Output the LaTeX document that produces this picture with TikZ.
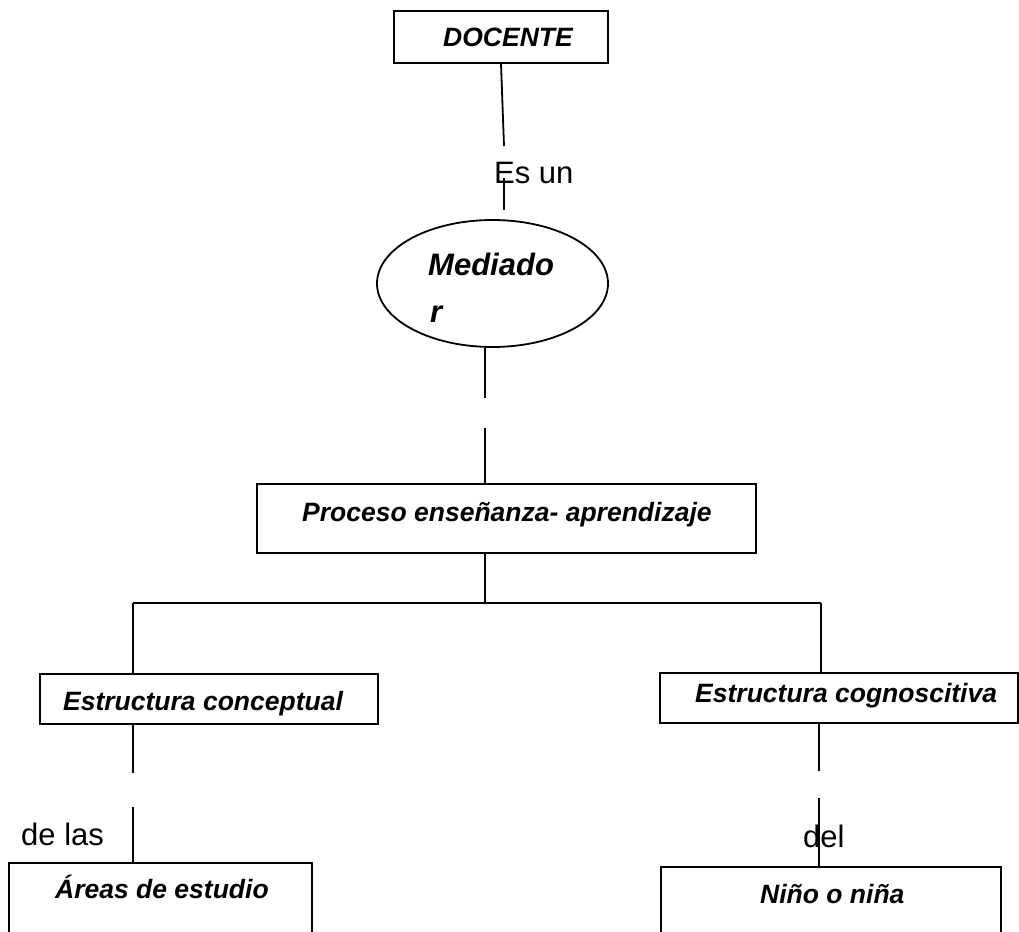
\documentclass[tikz,border=0pt]{standalone}
\usepackage{fontspec}
\setmainfont{Liberation Sans}
\usetikzlibrary{shapes.geometric}
\tikzset{
  boxnode/.style={draw, line width=1.8pt, rectangle, inner sep=0pt},
  ellnode/.style={draw, line width=1.8pt, ellipse, inner sep=0pt},
  conn/.style={line width=1.8pt},
  plainlbl/.style={anchor=base west, inner sep=0pt, font=\fontsize{31}{37}\selectfont},
  bilbl/.style={anchor=base west, inner sep=0pt, font=\fontsize{26.5}{31}\selectfont\bfseries\itshape},
  medlbl/.style={bilbl, font=\fontsize{31}{36}\selectfont\bfseries\itshape},
}
\begin{document}
\begin{tikzpicture}[x=1pt, y=-1pt]
\useasboundingbox (0,0) rectangle (1019,931);
\clip (0,0) rectangle (1019,931);
% boxes
\node[boxnode, minimum width=214pt, minimum height=52pt] (doc) at (501,37) {};
\node[ellnode, minimum width=231pt, minimum height=127pt] (med) at (492.5,283.5) {};
\node[boxnode, minimum width=499pt, minimum height=69pt] (proc) at (506.5,518.5) {};
\node[boxnode, minimum width=338pt, minimum height=50pt] (ec) at (209,699) {};
\node[boxnode, minimum width=358pt, minimum height=50pt] (ecog) at (839,698) {};
\node[boxnode, minimum width=303pt, minimum height=100pt] (areas) at (160.5,913) {};
\node[boxnode, minimum width=340pt, minimum height=100pt] (nino) at (831,917) {};
% texts
\node[bilbl] (tdoc) at (443,47) {DOCENTE};
\node[plainlbl] (esun) at (494,183) {Es un};
\node[medlbl] (tmed1) at (428,275) {Mediado};
\node[medlbl] (tmed2) at (430,322) {r};
\node[bilbl] (tproc) at (302,521) {Proceso enseñanza- aprendizaje};
\node[bilbl] (tec) at (63,710) {Estructura conceptual};
\node[bilbl] (tecog) at (695,702) {Estructura cognoscitiva};
\node[plainlbl] (delas) at (21,845) {de las};
\node[plainlbl] (del) at (803,847) {del};
\node[bilbl] (tareas) at (55,898) {Áreas de estudio};
\node[bilbl] (tnino) at (760,903) {Niño o niña};
% connector coordinates
\coordinate (c1) at (504,146);
\coordinate (c2a) at (504,178);
\coordinate (c2b) at (504,210);
\coordinate (c3) at (485,398);
\coordinate (c4) at (485,428);
\coordinate (hm) at (485,603);
\coordinate (hl) at (133,603);
\coordinate (hr) at (821,603);
\coordinate (l1) at (133,773);
\coordinate (l2) at (133,807);
\coordinate (r1) at (819,771);
\coordinate (r2) at (819,798);
% connectors
\draw[conn] (doc.south) -- (c1);
\draw[conn] (c2a) -- (c2b);
\draw[conn] (med.south -| c3) -- (c3);
\draw[conn] (c4) -- (proc.north -| c4);
\draw[conn] (proc.south -| hm) -- (hm);
\draw[conn] (hl) -- (hr);
\draw[conn] (hl) -- (ec.north -| hl);
\draw[conn] (hr) -- (ecog.north -| hr);
\draw[conn] (ec.south -| l1) -- (l1);
\draw[conn] (l2) -- (areas.north -| l2);
\draw[conn] (ecog.south -| r1) -- (r1);
\draw[conn] (r2) -- (nino.north -| r2);
\end{tikzpicture}
\end{document}
